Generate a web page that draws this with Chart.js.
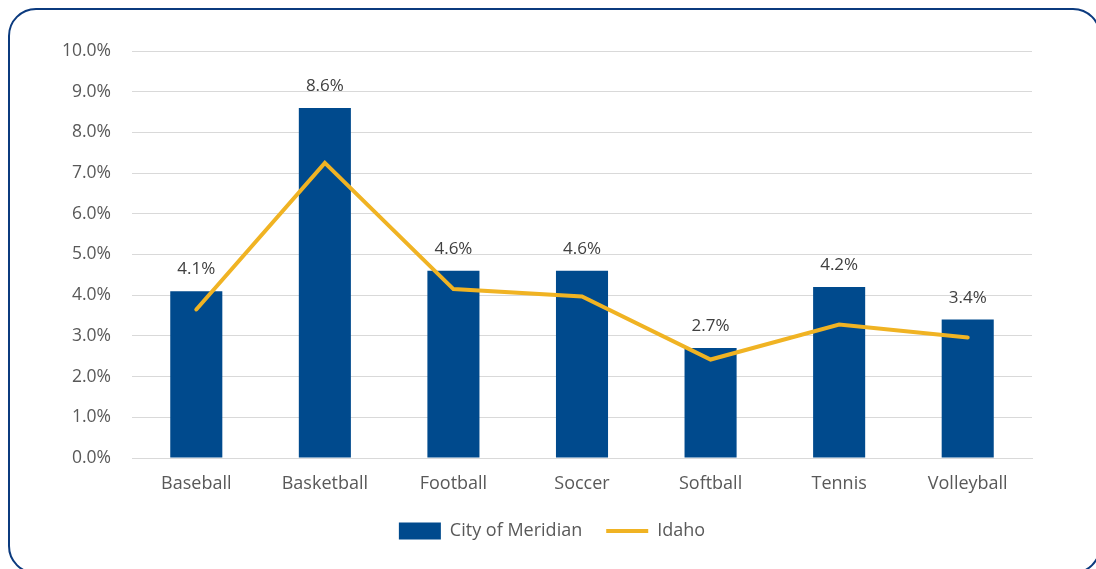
<!DOCTYPE html>
<html>
<head>
<meta charset="utf-8">
<script src="https://cdn.jsdelivr.net/npm/chart.js@4.4.0/dist/chart.umd.min.js"></script>
<style>
  html, body { margin: 0; padding: 0; background: #fff; }
  body { width: 1096px; height: 569px; overflow: hidden; position: relative; }
  #frame { position: absolute; left: 8px; top: 8px; width: 1093px; height: 566px;
           border: 2.5px solid #0b3a7e; border-radius: 28px; box-sizing: border-box; }
  #wrap { position: absolute; left: 0; top: 0; width: 1096px; height: 569px; }
</style>
</head>
<body>
<div id="frame"></div>
<div id="wrap"><canvas id="c" width="1096" height="569"></canvas></div>
<script>
const categories = ['Baseball', 'Basketball', 'Football', 'Soccer', 'Softball', 'Tennis', 'Volleyball'];
const meridianValues = [4.1, 8.6, 4.6, 4.6, 2.7, 4.2, 3.4];
const idahoValues = [3.65, 7.25, 4.15, 3.97, 2.42, 3.28, 2.96];
const seriesNames = ['City of Meridian', 'Idaho'];
const yTicks = [0, 1, 2, 3, 4, 5, 6, 7, 8, 9, 10];

const FONT = "'Open Sans', Lato, sans-serif";

const barLabels = {
  id: 'barLabels',
  afterDatasetsDraw(chart) {
    const ctx = chart.ctx;
    const meta = chart.getDatasetMeta(1);
    ctx.save();
    ctx.font = "17px " + FONT;
    ctx.fillStyle = '#404040';
    ctx.textAlign = 'center';
    ctx.textBaseline = 'alphabetic';
    meta.data.forEach((bar, i) => {
      ctx.fillText(meridianValues[i].toFixed(1) + '%', bar.x, bar.y - 17);
    });
    ctx.restore();
  }
};

const legendShift = {
  id: 'legendShift',
  afterLayout(chart) {
    if (chart.legend) {
      chart.legend.left += 26;
      chart.legend.right += 26;
    }
  }
};

new Chart(document.getElementById('c'), {
  data: {
    labels: categories,
    datasets: [
      {
        type: 'line',
        label: seriesNames[1],
        data: idahoValues,
        borderColor: '#F0B323',
        backgroundColor: '#F0B323',
        borderWidth: 4,
        pointRadius: 0,
        pointStyle: 'line',
        borderCapStyle: 'round',
        tension: 0,
        order: 0
      },
      {
        type: 'bar',
        label: seriesNames[0],
        data: meridianValues,
        backgroundColor: '#004a8d',
        borderWidth: 0,
        pointStyle: 'rect',
        barPercentage: 1,
        categoryPercentage: 0.405,
        order: 1
      }
    ]
  },
  options: {
    responsive: false,
    animation: false,
    layout: { padding: { left: 20, right: 64, top: 51, bottom: 19 } },
    plugins: {
      tooltip: { enabled: false },
      legend: {
        position: 'bottom',
        reverse: true,
        labels: {
          usePointStyle: true,
          pointStyleWidth: 42,
          boxHeight: 17,
          padding: 24,
          color: '#595959',
          font: { family: FONT, size: 18 }
        }
      }
    },
    scales: {
      x: {
        grid: { display: false, drawTicks: false },
        border: { display: true, color: '#d9d9d9', width: 1 },
        ticks: { color: '#595959', font: { family: FONT, size: 18 }, padding: 15 },
        afterFit(s) { s.height = 40; }
      },
      y: {
        min: 0, max: 10,
        afterBuildTicks(s) { s.ticks = yTicks.map(v => ({ value: v })); },
        grid: { color: '#d9d9d9', lineWidth: 1, drawTicks: false },
        border: { display: false },
        ticks: {
          color: '#595959',
          font: { family: FONT, size: 17.5 },
          padding: 21,
          callback: v => v.toFixed(1) + '%'
        },
        afterFit(s) { s.width = 112; }
      }
    }
  },
  plugins: [barLabels, legendShift]
});
</script>
</body>
</html>
